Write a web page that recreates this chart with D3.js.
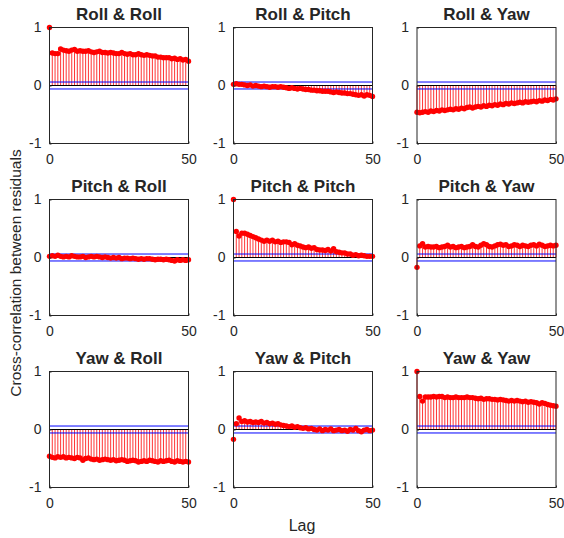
<!DOCTYPE html>
<html>
<head>
<meta charset="utf-8">
<script src="https://cdn.jsdelivr.net/npm/d3@7"></script>
<style>
  body { margin: 0; background: #fff; }
  svg text { font-family: "Liberation Sans", Arial, Helvetica, sans-serif; fill: #262626; }
</style>
</head>
<body>
<svg id="chart" width="564" height="538"></svg>
<script>
// cross-correlation values, lag 0..50
let lags = d3.range(0, 51);
let xTicks = [0, 50];
let yTicks = [-1, 0, 1];
let confBound = 0.06;

let titles = ["Roll & Roll", "Roll & Pitch", "Roll & Yaw",
              "Pitch & Roll", "Pitch & Pitch", "Pitch & Yaw",
              "Yaw & Roll", "Yaw & Pitch", "Yaw & Yaw"];

let rollRoll = [1, 0.56, 0.55, 0.55, 0.63, 0.61, 0.60, 0.59, 0.61, 0.62, 0.59, 0.60, 0.59, 0.59, 0.60, 0.58, 0.57, 0.58, 0.59, 0.57, 0.57, 0.56, 0.57, 0.56, 0.55, 0.55, 0.57, 0.55, 0.54, 0.55, 0.53, 0.53, 0.55, 0.53, 0.52, 0.53, 0.52, 0.51, 0.51, 0.49, 0.49, 0.48, 0.48, 0.48, 0.46, 0.47, 0.45, 0.46, 0.44, 0.45, 0.42];
let rollPitch = [0.02, 0.03, 0.02, 0.02, 0.01, 0.0, 0.01, -0.01, 0.0, -0.01, -0.02, -0.01, -0.02, -0.03, -0.02, -0.02, -0.03, -0.02, -0.03, -0.04, -0.05, -0.04, -0.05, -0.06, -0.05, -0.06, -0.07, -0.07, -0.08, -0.08, -0.09, -0.09, -0.10, -0.10, -0.10, -0.11, -0.12, -0.11, -0.12, -0.13, -0.13, -0.14, -0.14, -0.15, -0.16, -0.17, -0.16, -0.18, -0.16, -0.17, -0.19];
let rollYaw = [-0.46, -0.47, -0.46, -0.45, -0.46, -0.44, -0.45, -0.43, -0.44, -0.42, -0.43, -0.42, -0.41, -0.42, -0.40, -0.41, -0.39, -0.40, -0.38, -0.37, -0.39, -0.37, -0.36, -0.37, -0.35, -0.36, -0.34, -0.35, -0.33, -0.34, -0.32, -0.33, -0.31, -0.32, -0.30, -0.31, -0.30, -0.29, -0.30, -0.28, -0.29, -0.28, -0.27, -0.28, -0.26, -0.27, -0.25, -0.26, -0.24, -0.25, -0.23];
let pitchRoll = [0.02, 0.03, 0.02, 0.04, 0.02, 0.01, 0.02, 0.01, 0.03, 0.02, 0.01, 0.01, 0.02, 0.0, 0.01, 0.02, 0.01, 0.02, 0.01, 0.0, 0.01, 0.0, -0.01, 0.0, -0.01, 0.0, -0.02, -0.01, -0.01, -0.02, -0.01, -0.02, -0.03, -0.02, -0.03, -0.02, -0.02, -0.03, -0.04, -0.03, -0.03, -0.04, -0.03, -0.04, -0.05, -0.06, -0.04, -0.05, -0.04, -0.05, -0.04];
let pitchPitch = [1, 0.45, 0.37, 0.42, 0.42, 0.40, 0.38, 0.36, 0.34, 0.32, 0.30, 0.28, 0.30, 0.28, 0.30, 0.27, 0.28, 0.26, 0.27, 0.27, 0.26, 0.22, 0.24, 0.21, 0.20, 0.18, 0.17, 0.18, 0.16, 0.17, 0.14, 0.13, 0.13, 0.12, 0.14, 0.11, 0.15, 0.10, 0.09, 0.08, 0.08, 0.06, 0.06, 0.04, 0.05, 0.03, 0.04, 0.03, 0.02, 0.02, 0.02];
let pitchYaw = [-0.17, 0.20, 0.24, 0.18, 0.19, 0.18, 0.18, 0.19, 0.17, 0.18, 0.19, 0.21, 0.18, 0.19, 0.17, 0.18, 0.19, 0.17, 0.18, 0.19, 0.22, 0.19, 0.18, 0.21, 0.24, 0.22, 0.19, 0.18, 0.20, 0.22, 0.23, 0.21, 0.22, 0.19, 0.20, 0.22, 0.21, 0.19, 0.21, 0.20, 0.19, 0.21, 0.22, 0.20, 0.23, 0.21, 0.19, 0.20, 0.21, 0.20, 0.21];
let yawRoll = [-0.46, -0.48, -0.49, -0.47, -0.48, -0.47, -0.49, -0.48, -0.49, -0.50, -0.48, -0.49, -0.53, -0.50, -0.49, -0.51, -0.52, -0.51, -0.53, -0.52, -0.51, -0.52, -0.53, -0.52, -0.54, -0.53, -0.52, -0.53, -0.55, -0.54, -0.53, -0.54, -0.56, -0.55, -0.54, -0.55, -0.53, -0.54, -0.55, -0.56, -0.54, -0.55, -0.54, -0.53, -0.55, -0.56, -0.54, -0.55, -0.56, -0.55, -0.56];
let yawPitch = [-0.17, 0.10, 0.20, 0.14, 0.15, 0.13, 0.14, 0.12, 0.13, 0.12, 0.14, 0.11, 0.12, 0.10, 0.11, 0.09, 0.10, 0.08, 0.07, 0.06, 0.05, 0.06, 0.04, 0.05, 0.03, 0.02, 0.03, 0.01, 0.02, 0.0, -0.01, 0.01, -0.02, 0.0, -0.01, 0.01, -0.02, -0.01, 0.0, -0.02, -0.01, -0.03, 0.0, -0.01, 0.02, -0.02, -0.04, -0.01, 0.0, -0.02, -0.01];
let yawYaw = [1, 0.57, 0.49, 0.56, 0.56, 0.56, 0.57, 0.56, 0.57, 0.57, 0.55, 0.56, 0.55, 0.55, 0.56, 0.55, 0.55, 0.55, 0.56, 0.55, 0.55, 0.54, 0.53, 0.54, 0.52, 0.53, 0.53, 0.52, 0.52, 0.51, 0.52, 0.51, 0.50, 0.49, 0.50, 0.49, 0.50, 0.49, 0.48, 0.49, 0.47, 0.48, 0.47, 0.46, 0.44, 0.46, 0.45, 0.43, 0.42, 0.41, 0.40];

let series = [rollRoll, rollPitch, rollYaw, pitchRoll, pitchPitch, pitchYaw, yawRoll, yawPitch, yawYaw];

let svg = d3.select("#chart");

// panel layout
let colLeft = [49.5, 233.5, 417];
let rowTop = [27.5, 199.5, 371.5];
let pw = 139, ph = 116;
let axisColor = "#262626";

series.forEach(function (vals, i) {
    let col = i % 3, row = Math.floor(i / 3);
    let g = svg.append("g")
        .attr("transform", "translate(" + colLeft[col] + "," + rowTop[row] + ")");

    let x = d3.scaleLinear().domain([0, 50]).range([0, pw]);
    let y = d3.scaleLinear().domain([-1, 1]).range([ph, 0]);

    // stems
    g.selectAll(".stem")
        .data(vals)
        .enter().append("line")
        .attr("x1", (d, j) => x(lags[j]))
        .attr("x2", (d, j) => x(lags[j]))
        .attr("y1", y(0))
        .attr("y2", d => y(d))
        .attr("stroke", "#ff0000")
        .attr("stroke-width", 0.8);

    // zero line
    g.append("line")
        .attr("x1", 0).attr("x2", pw)
        .attr("y1", y(0)).attr("y2", y(0))
        .attr("stroke", "#000").attr("stroke-width", 1);

    // confidence bounds
    [confBound, -confBound].forEach(function (b) {
        g.append("line")
            .attr("x1", 0).attr("x2", pw)
            .attr("y1", y(b)).attr("y2", y(b))
            .attr("stroke", "#0000ff").attr("stroke-width", 1);
    });

    // markers
    g.selectAll(".dot")
        .data(vals)
        .enter().append("circle")
        .attr("cx", (d, j) => x(lags[j]))
        .attr("cy", d => y(d))
        .attr("r", 2.7)
        .attr("fill", "#ff0000");

    // axes
    let xAxis = d3.axisBottom(x).tickValues(xTicks).tickSize(-2).tickPadding(11);
    let yAxis = d3.axisLeft(y).tickValues(yTicks).tickSize(-2).tickPadding(8).tickFormat(d => String(d));

    let gx = g.append("g").attr("transform", "translate(0," + ph + ")").call(xAxis);
    let gy = g.append("g").call(yAxis);
    [gx, gy].forEach(function (a) {
        a.select(".domain").remove();
        a.selectAll("line").attr("stroke", axisColor);
        a.selectAll("text").style("font-size", "14px").attr("fill", axisColor);
    });

    // box
    g.append("rect")
        .attr("width", pw).attr("height", ph)
        .attr("fill", "none")
        .attr("stroke", axisColor).attr("stroke-width", 1);

    // title
    g.append("text")
        .attr("x", pw / 2).attr("y", -7.5)
        .attr("text-anchor", "middle")
        .style("font-size", "17px")
        .style("font-weight", "bold")
        .attr("fill", "#000")
        .text(titles[i]);
});

svg.append("text")
    .attr("transform", "translate(21,273) rotate(-90)")
    .attr("text-anchor", "middle")
    .style("font-size", "15.5px")
    .text("Cross-correlation between residuals");

svg.append("text")
    .attr("x", 302).attr("y", 531)
    .attr("text-anchor", "middle")
    .style("font-size", "16px")
    .text("Lag");
</script>
</body>
</html>
